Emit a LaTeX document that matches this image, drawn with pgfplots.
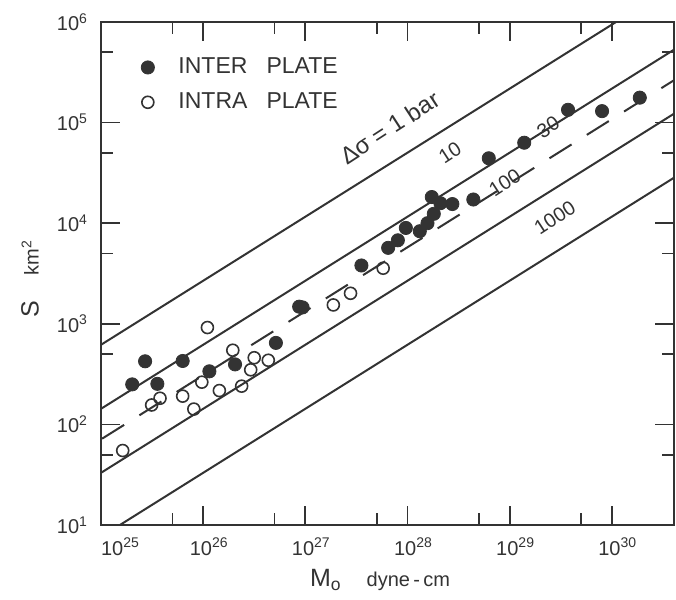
\documentclass[border=0pt]{standalone}
\usepackage{fontspec}
\setmainfont{Liberation Sans}
\usepackage{pgfplots}
\pgfplotsset{compat=1.18}

\definecolor{ink}{HTML}{333333}

\begin{document}
\begin{tikzpicture}
\begin{loglogaxis}[
  name=ax,
  scale only axis,
  width=286.5pt, height=251.5pt,
  xmin=1e25, xmax=4.07e30,
  ymin=10, ymax=1e6,
  axis line style={ink, line width=0.9pt},
  tick align=inside,
  xtick pos=both, ytick pos=both,
  xticklabel pos=lower, yticklabel pos=left,
  major tick length=9.5pt, minor tick length=6pt,
  every tick/.style={ink, line width=0.9pt},
  xtick={1e25,1e26,1e27,1e28,1e29,1e30},
  xticklabels={\makebox[0pt][l]{\hspace{-3pt}10\textsuperscript{25}},10\textsuperscript{26},10\textsuperscript{27},10\textsuperscript{28},10\textsuperscript{29},10\textsuperscript{30}},
  minor xtick={5e25,5e26,5e27,5e28,5e29},
  ytick={10,100,1000,1e4,1e5,1e6},
  yticklabels={10\textsuperscript{1},10\textsuperscript{2},10\textsuperscript{3},10\textsuperscript{4},10\textsuperscript{5},10\textsuperscript{6}},
  minor ytick={50,500,5000,5e4,5e5},
  tick label style={font=\fontsize{10}{12}\selectfont, text=ink},
  xticklabel style={yshift=-3pt, xshift=3pt},
  yticklabel style={xshift=-3pt},
  xlabel={\fontsize{12.5}{14}\selectfont M\textsubscript{o}\quad\fontsize{10}{12}\selectfont dyne\,-\,cm},
  ylabel={\fontsize{12.5}{14}\selectfont S\quad\fontsize{10}{12}\selectfont km\textsuperscript{2}},
  xlabel style={at={(axis description cs:0.487,-0.11)}, anchor=center, text=ink},
  ylabel style={at={(axis description cs:-0.124,0.49)}, anchor=center, text=ink},
  legend style={draw=none, fill=none, at={(axis description cs:0.059,0.945)}, anchor=north west,
    font=\fontsize{11.5}{13}\selectfont, text=ink, row sep=4pt,
    /tikz/every odd column/.append style={column sep=10pt}},
  legend cell align=left,
]
% stress-drop reference lines (circular crack), drawn corner to corner and clipped
\addplot[ink, line width=1pt, forget plot] coordinates {(4.105e20,1) (4.105e31,1e7)};
\addplot[ink, line width=1pt, forget plot] coordinates {(4.105e21,1) (4.105e32,1e7)};
\addplot[ink, line width=1pt, forget plot, dash pattern=on 13pt off 9pt] coordinates {(1.2315e22,1) (1.2315e33,1e7)};
\addplot[ink, line width=1pt, forget plot] coordinates {(4.105e22,1) (4.105e33,1e7)};
\addplot[ink, line width=1pt, forget plot] coordinates {(4.105e23,1) (4.105e34,1e7)};

\addplot[only marks, mark=*, mark size=3.3pt, ink, mark options={fill=ink}] coordinates {
  (2.02e25,250) (2.7e25,424) (3.56e25,253) (6.3e25,427) (1.15e26,337)
  (2.05e26,395) (5.15e26,646) (8.7e26,1480) (9.4e26,1455) (3.54e27,3800)
  (6.47e27,5690) (8.05e27,6760) (9.64e27,8970) (1.32e28,8320) (1.57e28,1.0e4)
  (1.81e28,1.24e4) (1.73e28,1.82e4) (2.1e28,1.58e4) (2.75e28,1.55e4) (4.41e28,1.72e4)
  (6.25e28,4.42e4) (1.39e29,6.31e4) (3.73e29,1.34e5) (8.03e29,1.30e5) (1.88e30,1.77e5)
};
\addlegendentry{INTER\ \ \ PLATE}

\addplot[only marks, mark=o, mark size=3pt, ink, mark options={line width=0.8pt, fill=white}] coordinates {
  (1.63e25,55) (3.13e25,156) (3.78e25,182) (6.3e25,191) (8.1e25,142)
  (9.7e25,263) (1.1e26,918) (1.44e26,217) (1.95e26,546) (2.38e26,240)
  (2.92e26,349) (3.16e26,460) (4.34e26,434) (1.88e27,1540) (2.77e27,2010)
  (5.78e27,3570)
};
\addlegendentry{INTRA\ \ \ PLATE}

\node[rotate=33, text=ink, font=\fontsize{12}{14}\selectfont] at (axis cs:6.7e27,8.9e4) {Δσ = 1 bar};
\node[rotate=33, text=ink, font=\fontsize{10}{12}\selectfont] at (axis cs:2.6e28,5.05e4) {10};
\node[rotate=33, text=ink, font=\fontsize{10}{12}\selectfont] at (axis cs:2.38e29,9.0e4) {30};
\node[rotate=33, text=ink, font=\fontsize{10}{12}\selectfont] at (axis cs:8.97e28,2.53e4) {100};
\node[rotate=33, text=ink, font=\fontsize{10}{12}\selectfont] at (axis cs:2.77e29,1.13e4) {1000};
\end{loglogaxis}
\pgfresetboundingbox
\path[use as bounding box] ([xshift=-50.5pt,yshift=-37pt]ax.south west) rectangle ([xshift=1pt,yshift=11pt]ax.north east);
\end{tikzpicture}
\end{document}
